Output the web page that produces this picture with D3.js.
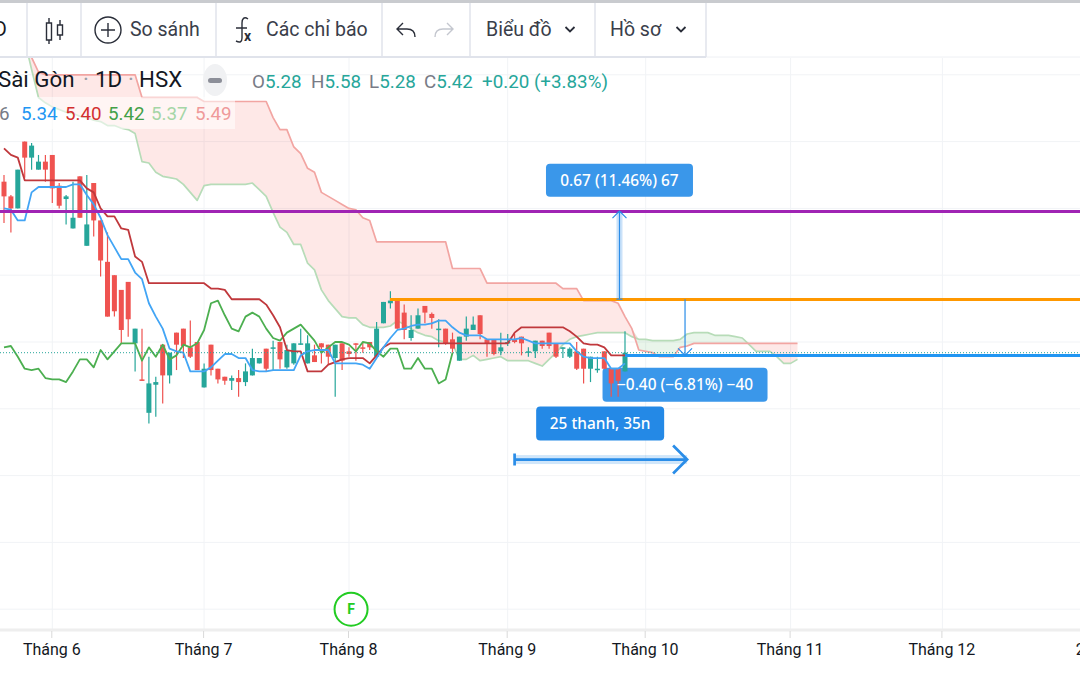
<!DOCTYPE html>
<html>
<head>
<meta charset="utf-8">
<script src="https://cdn.jsdelivr.net/npm/d3@7"></script>
<style>
html, body { margin: 0; padding: 0; background: #fff; overflow: hidden; }
svg { display: block; font-family: Roboto, sans-serif; }
</style>
</head>
<body>
<script>
// Candles, one entry per daily bar.
var opens = [6.70,6.59,6.50,7.00,6.88,6.79,6.85,6.90,6.67,6.57,
  6.35,6.74,6.22,6.69,6.41,6.10,6.00,5.89,5.95,5.49,
  5.22,4.97,5.18,5.48,5.25,5.57,5.60,5.46,5.50,5.16,
  5.48,5.30,5.24,5.21,5.23,5.20,5.25,5.34,5.45,5.45,
  5.50,5.31,5.34,5.48,5.34,5.40,5.49,5.48,5.38,5.49,
  5.43,5.49,5.46,5.50,5.39,5.64,5.79,5.81,5.72,5.53,
  5.60,5.77,5.71,5.59,5.60,5.52,5.36,5.54,5.59,5.70,
  5.52,5.52,5.43,5.49,5.52,5.54,5.42,5.43,5.51,5.57,
  5.49,5.45,5.39,5.43,5.45,5.30,5.29,5.43,5.30,5.30,5.28];
var highs = [6.75,6.60,6.79,7.00,6.99,6.90,6.90,6.90,6.69,6.60,
  6.70,6.74,6.75,6.69,6.41,6.32,6.00,5.89,5.95,5.60,
  5.60,5.39,5.24,5.48,5.42,5.57,5.60,5.66,5.50,5.34,
  5.48,5.30,5.24,5.25,5.29,5.34,5.45,5.38,5.45,5.51,
  5.50,5.48,5.49,5.60,5.55,5.48,5.49,5.48,5.48,5.49,
  5.46,5.49,5.50,5.50,5.65,5.80,5.88,5.81,5.78,5.70,
  5.75,5.77,5.72,5.67,5.60,5.57,5.54,5.69,5.69,5.70,
  5.52,5.52,5.57,5.56,5.56,5.54,5.46,5.51,5.51,5.57,
  5.49,5.46,5.46,5.50,5.45,5.39,5.39,5.43,5.30,5.30,5.58];
var lows = [6.39,6.32,6.50,6.73,6.79,6.79,6.70,6.54,6.50,6.38,
  6.35,6.43,6.22,6.29,5.99,5.69,5.69,5.49,5.54,5.28,
  5.21,4.89,4.94,5.04,5.19,5.29,5.38,5.38,5.29,5.16,
  5.25,5.19,5.18,5.14,5.09,5.17,5.25,5.34,5.28,5.29,
  5.30,5.30,5.33,5.48,5.34,5.35,5.34,5.33,5.09,5.29,
  5.39,5.36,5.42,5.44,5.39,5.64,5.75,5.60,5.52,5.51,
  5.60,5.64,5.60,5.46,5.48,5.42,5.36,5.51,5.59,5.52,
  5.39,5.40,5.40,5.47,5.49,5.40,5.39,5.38,5.45,5.45,
  5.38,5.38,5.38,5.29,5.19,5.20,5.27,5.30,5.09,5.09,5.28];
var closes = [6.59,6.50,6.79,6.88,6.97,6.85,6.79,6.65,6.52,6.59,
  6.43,6.43,6.38,6.41,6.11,5.69,5.73,5.59,5.67,5.60,
  5.21,5.19,5.20,5.25,5.42,5.48,5.47,5.39,5.29,5.30,
  5.29,5.22,5.21,5.23,5.20,5.28,5.38,5.38,5.30,5.46,
  5.37,5.44,5.49,5.49,5.49,5.35,5.46,5.39,5.48,5.36,
  5.41,5.48,5.45,5.46,5.60,5.80,5.81,5.60,5.59,5.59,
  5.70,5.72,5.68,5.60,5.49,5.45,5.54,5.60,5.63,5.56,
  5.49,5.41,5.46,5.50,5.50,5.49,5.43,5.51,5.47,5.47,
  5.39,5.46,5.45,5.30,5.30,5.39,5.30,5.30,5.19,5.21,5.42];

// Ichimoku lines.
var tenkan = [6.50,6.49,6.41,6.41,6.62,6.66,6.66,6.66,6.66,6.66,
  6.68,6.68,6.60,6.53,6.43,6.30,6.21,6.12,6.12,6.02,
  5.97,5.79,5.69,5.60,5.45,5.43,5.42,5.28,5.28,5.28,
  5.31,5.36,5.41,5.41,5.38,5.38,5.29,5.28,5.28,5.29,
  5.29,5.29,5.29,5.40,5.43,5.44,5.44,5.44,5.34,5.34,
  5.34,5.34,5.33,5.30,5.38,5.46,5.53,5.59,5.60,5.62,
  5.63,5.63,5.64,5.66,5.66,5.61,5.57,5.55,5.55,5.55,
  5.52,5.52,5.52,5.52,5.52,5.53,5.51,5.49,5.49,5.49,
  5.49,5.49,5.49,5.43,5.39,5.38,5.38,5.38,5.30,5.30,5.34];
var kijun = [6.95,6.90,6.88,6.71,6.71,6.71,6.71,6.71,6.71,6.71,
  6.71,6.71,6.65,6.62,6.50,6.44,6.44,6.35,6.34,6.14,
  6.10,5.94,5.94,5.94,5.94,5.94,5.94,5.94,5.94,5.94,
  5.90,5.90,5.89,5.82,5.82,5.82,5.82,5.82,5.78,5.70,
  5.61,5.44,5.43,5.43,5.28,5.28,5.28,5.33,5.35,5.37,
  5.38,5.38,5.38,5.34,5.40,5.46,5.49,5.49,5.49,5.49,
  5.49,5.49,5.49,5.49,5.49,5.49,5.49,5.49,5.49,5.49,
  5.49,5.49,5.49,5.49,5.57,5.61,5.61,5.61,5.61,5.61,
  5.61,5.61,5.58,5.54,5.49,5.48,5.48,5.46,5.40,5.40,5.40];
var chikou = [5.46,5.47,5.39,5.30,5.29,5.30,5.23,5.22,5.22,5.20,
  5.28,5.37,5.37,5.31,5.44,5.37,5.43,5.49,5.49,5.49,
  5.36,5.46,5.39,5.48,5.37,5.40,5.48,5.46,5.49,5.59,
  5.79,5.81,5.70,5.60,5.58,5.69,5.72,5.69,5.60,5.53,
  5.51,5.57,5.60,5.63,5.57,5.51,5.42,5.46,5.50,5.50,
  5.48,5.43,5.50,5.49,5.43,5.39,5.45,5.45,5.30,5.30,
  5.38,5.30,5.30,5.19,5.22,5.42];

// The cloud starts at bar 3 and runs 25 bars past the last candle.
var spanStart = 3;
var spanA = [7.76,7.54,7.33,7.29,7.26,7.24,7.22,7.21,7.19,7.18,7.16,7.15,7.12,7.12,7.10,7.09,7.06,
  6.85,6.84,6.77,6.74,6.73,6.72,6.68,6.62,6.56,6.67,6.68,6.68,6.68,6.68,6.68,6.68,6.69,6.64,6.59,
  6.47,6.36,6.32,6.23,6.23,6.09,6.04,5.89,5.81,5.75,5.69,5.68,5.68,5.63,5.61,5.61,5.61,5.62,5.66,
  5.63,5.60,5.57,5.55,5.54,5.51,5.50,5.49,5.37,5.37,5.40,5.36,5.37,5.38,5.39,5.36,5.36,5.36,5.36,
  5.34,5.32,5.37,5.42,5.48,5.52,5.54,5.55,5.56,5.57,5.57,5.57,5.57,5.57,5.54,5.52,5.52,5.51,5.51,
  5.51,5.51,5.52,5.56,5.57,5.57,5.57,5.55,5.55,5.55,5.54,5.53,5.48,5.43,5.43,5.43,5.39,5.34,5.34,5.37];
var spanB = [7.84,7.63,7.52,7.50,7.50,7.50,7.50,7.50,7.50,7.50,7.50,7.50,7.50,7.50,7.50,7.50,7.50,
  7.33,7.33,7.33,7.33,7.33,7.33,7.33,7.33,7.33,7.30,7.30,7.30,7.30,7.30,7.30,7.30,7.30,7.30,7.30,
  7.18,7.09,7.09,6.96,6.91,6.80,6.77,6.62,6.59,6.56,6.53,6.50,6.49,6.43,6.41,6.25,6.25,6.25,6.25,
  6.25,6.25,6.25,6.25,6.25,6.25,6.25,6.05,6.05,6.05,6.05,6.05,5.94,5.94,5.94,5.94,5.94,5.94,5.94,
  5.94,5.94,5.94,5.94,5.90,5.90,5.90,5.81,5.81,5.81,5.81,5.81,5.79,5.69,5.60,5.44,5.43,5.42,5.39,
  5.39,5.39,5.46,5.47,5.49,5.49,5.49,5.49,5.49,5.49,5.49,5.49,5.49,5.49,5.49,5.49,5.49,5.49,5.49,5.49];

// Axis.
var priceTicks = [7.5, 7.0, 6.5, 6.0, 5.5, 5.0, 4.5, 4.0, 3.5];
var monthBars = [7, 29, 50, 73, 93, 114, 136, 158];
var monthLabels = ["Tháng 6", "Tháng 7", "Tháng 8", "Tháng 9", "Tháng 10", "Tháng 11", "Tháng 12", "2023"];

// Drawn levels and measuring tools.
var purpleLevel = 6.48, orangeLevel = 5.82, blueLevel = 5.40, lastClose = 5.42;
var orangeFromBar = 56, blueFromBar = 90;
var upMeasureBar = 89.2, downMeasureBar = 98.7;
var rangeFromBar = 74, rangeToBar = 99, rangePrice = 4.62;
var fBar = 50.3;

var W = 1080, H = 675, plotTop = 58, plotBottom = 630;

var x = d3.scaleLinear().domain([0, 1]).range([4, 10.9]);
var y = d3.scaleLinear().domain([5.5, 6.0]).range([342, 275.2]);

var svg = d3.select("body").append("svg").attr("width", W).attr("height", H);

svg.append("clipPath").attr("id", "plot").append("rect")
  .attr("x", 0).attr("y", plotTop).attr("width", W).attr("height", plotBottom - plotTop);

var plot = svg.append("g").attr("clip-path", "url(#plot)");

// Grid
plot.selectAll(".hgrid").data(priceTicks).enter().append("line")
  .attr("x1", 0).attr("x2", W)
  .attr("y1", function (d){ return y(d); }).attr("y2", function (d){ return y(d); })
  .attr("stroke", "#f1f3f6").attr("stroke-width", 1);
plot.selectAll(".vgrid").data(monthBars).enter().append("line")
  .attr("x1", function (d){ return x(d); }).attr("x2", function (d){ return x(d); })
  .attr("y1", plotTop).attr("y2", plotBottom)
  .attr("stroke", "#f1f3f6").attr("stroke-width", 1);

// Cloud
var cloud = spanA.map(function (a, i){ return { i: i + spanStart, a: a, b: spanB[i] }; });
plot.append("path").datum(cloud)
  .attr("fill", "#f44336").attr("fill-opacity", 0.12)
  .attr("d", d3.area()
    .x(function (d){ return x(d.i); })
    .y0(function (d){ return y(d.a); })
    .y1(function (d){ return y(Math.max(d.a, d.b)); }));
plot.append("path").datum(cloud)
  .attr("fill", "#4caf50").attr("fill-opacity", 0.12)
  .attr("d", d3.area()
    .x(function (d){ return x(d.i); })
    .y0(function (d){ return y(d.b); })
    .y1(function (d){ return y(Math.max(d.a, d.b)); }));

function drawLine(values, start, color, width){
  var line = d3.line()
    .x(function (d, i){ return x(i + start); })
    .y(function (d){ return y(d); });
  plot.append("path").datum(values)
    .attr("fill", "none").attr("stroke", color)
    .attr("stroke-width", width).attr("stroke-linejoin", "round")
    .attr("d", line);
}

drawLine(spanA, spanStart, "#b7dcb8", 1.7);
drawLine(spanB, spanStart, "#f2a5a2", 1.7);

// Label boxes sit under the candles
var BLUE_LIGHT = "#3a97ea", BLUE_DARK = "#2489e6";
function labelBox(cx, price, w, h, color){
  plot.append("rect")
    .attr("x", cx - w / 2).attr("y", y(price) - h / 2)
    .attr("width", w).attr("height", h).attr("rx", 4)
    .attr("fill", color);
}
function labelText(cx, price, text){
  plot.append("text")
    .attr("x", cx).attr("y", y(price)).attr("dy", "0.36em")
    .attr("text-anchor", "middle").attr("fill", "#fff")
    .style("font-family", "'Noto Sans', sans-serif")
    .style("font-size", "15.4px").style("font-weight", 500)
    .text(text);
}
labelBox(x(89.2), 6.71, 147, 33, BLUE_LIGHT);
labelBox(x(98.7), 5.18, 165, 34, BLUE_LIGHT);
labelBox(x(86.4), 4.89, 128, 34, BLUE_DARK);

// Wick and body of each candle
var bars = d3.range(closes.length);
function candleColor(i){ return closes[i] >= opens[i] ? "#26a69a" : "#ef5350"; }
plot.selectAll(".wick").data(bars).enter().append("line")
  .attr("x1", function (i){ return x(i); }).attr("x2", function (i){ return x(i); })
  .attr("y1", function (i){ return y(highs[i]); }).attr("y2", function (i){ return y(lows[i]); })
  .attr("stroke", candleColor).attr("stroke-width", 1.2);
plot.selectAll(".body").data(bars).enter().append("rect")
  .attr("x", function (i){ return x(i) - 2.5; })
  .attr("y", function (i){ return y(Math.max(opens[i], closes[i])); })
  .attr("width", 5)
  .attr("height", function (i){ return Math.max(1.5, Math.abs(y(opens[i]) - y(closes[i]))); })
  .attr("fill", candleColor);

drawLine(chikou, 0, "#4caf50", 1.8);
drawLine(kijun, 0, "#c0383c", 1.8);
drawLine(tenkan, 0, "#42a5f5", 1.8);

// Last price
plot.append("line")
  .attr("x1", 0).attr("x2", W).attr("y1", y(lastClose)).attr("y2", y(lastClose))
  .attr("stroke", "#26a69a").attr("stroke-width", 1).attr("stroke-dasharray", "1 2");

// Horizontal levels
function level(price, fromBar, color){
  plot.append("line")
    .attr("x1", x(fromBar)).attr("x2", W).attr("y1", y(price)).attr("y2", y(price))
    .attr("stroke", color).attr("stroke-width", 3).attr("shape-rendering", "crispEdges");
}
level(purpleLevel, -1, "#a024b4");
level(orangeLevel, orangeFromBar, "#ff9800");
level(blueLevel, blueFromBar, "#2196f3");

// Upward price range
var TOOL = "#2a8de8";
plot.append("rect")
  .attr("x", x(upMeasureBar) - 3).attr("y", y(purpleLevel))
  .attr("width", 6).attr("height", y(orangeLevel) - y(purpleLevel))
  .attr("fill", TOOL).attr("fill-opacity", 0.25);
plot.append("path")
  .attr("d", "M" + x(upMeasureBar) + "," + y(orangeLevel) + "V" + y(purpleLevel)
    + "m-7,7l7,-7l7,7M" + (x(upMeasureBar) - 3) + "," + y(orangeLevel) + "h6")
  .attr("fill", "none").attr("stroke", TOOL).attr("stroke-width", 1.2);

// Downward price range
plot.append("path")
  .attr("d", "M" + x(downMeasureBar) + "," + y(orangeLevel) + "V" + y(blueLevel)
    + "m-7,-7l7,7l7,-7")
  .attr("fill", "none").attr("stroke", TOOL).attr("stroke-width", 1.2);

// Date range
plot.append("rect")
  .attr("x", x(rangeFromBar)).attr("y", y(rangePrice) - 4.5)
  .attr("width", x(rangeToBar) - x(rangeFromBar)).attr("height", 9)
  .attr("fill", TOOL).attr("fill-opacity", 0.22);
plot.append("path")
  .attr("d", "M" + x(rangeFromBar) + "," + (y(rangePrice) - 6) + "v12M" + x(rangeFromBar) + "," + y(rangePrice)
    + "H" + x(rangeToBar) + "m-14,-14l14,14l-14,14")
  .attr("fill", "none").attr("stroke", TOOL).attr("stroke-width", 2.7);

labelText(x(89.2), 6.71, "0.67 (11.46%) 67");
labelText(x(98.7), 5.18, "−0.40 (−6.81%) −40");
labelText(x(86.4), 4.89, "25 thanh, 35n");

// Financials marker
var fy = y(3.5);
plot.append("circle").attr("cx", x(fBar)).attr("cy", fy).attr("r", 16.5)
  .attr("fill", "#fff").attr("stroke", "#22cc22").attr("stroke-width", 2);
plot.append("text").attr("x", x(fBar)).attr("y", fy).attr("dy", "0.36em")
  .attr("text-anchor", "middle").attr("fill", "#22cc22")
  .style("font-size", "14px").style("font-weight", 700).text("F");

// Time axis
svg.append("line").attr("x1", 0).attr("x2", W).attr("y1", plotBottom).attr("y2", plotBottom)
  .attr("stroke", "#eeeeee").attr("stroke-width", 3);
var axis = d3.axisBottom(x)
  .tickValues(monthBars)
  .tickSize(7).tickPadding(6)
  .tickFormat(function (d, i){ return monthLabels[i]; });
var axisG = svg.append("g").attr("transform", "translate(-1," + (plotBottom + 1) + ")").call(axis);
axisG.select(".domain").remove();
axisG.selectAll(".tick line").attr("stroke", "#d9d9d9");
axisG.selectAll(".tick text").attr("fill", "#131722")
  .style("font-family", "Roboto, sans-serif").style("font-size", "16px");

// Legend
var legend = svg.append("g");
legend.append("rect").attr("x", 0).attr("y", 97).attr("width", 235).attr("height", 32)
  .attr("fill", "#fff").attr("fill-opacity", 0.55);
[["Sài Gòn", -2, "#131722"], ["·", 83, "#9a9da6"], ["1D", 95, "#131722"], ["·", 128, "#9a9da6"], ["HSX", 139, "#131722"]].forEach(function (p){
  legend.append("text").attr("x", p[1]).attr("y", 87).attr("fill", p[2])
    .style("font-size", "22.3px").text(p[0]);
});
legend.append("ellipse").attr("cx", 215).attr("cy", 80).attr("rx", 12).attr("ry", 16).attr("fill", "#f0f1f3");
legend.append("rect").attr("x", 208).attr("y", 78).attr("width", 14).attr("height", 5).attr("rx", 2.5).attr("fill", "#8c8f99");

[["O", "5.28", 252], ["H", "5.58", 311], ["L", "5.28", 369], ["C", "5.42", 424]].forEach(function (p){
  var t = legend.append("text").attr("x", p[2]).attr("y", 88).style("font-size", "18.8px");
  t.append("tspan").attr("fill", "#787b86").text(p[0]);
  t.append("tspan").attr("fill", "#26a69a").text(p[1]);
});
legend.append("text").attr("x", 482).attr("y", 88).attr("fill", "#26a69a")
  .style("font-size", "18.8px").text("+0.20 (+3.83%)");

var legendValues = [["6", -1, "#787b86"], ["5.34", 21, "#2196f3"], ["5.40", 65, "#d32f2f"],
  ["5.42", 108, "#43a047"], ["5.37", 151, "#a5d6a7"], ["5.49", 195, "#ef9a9a"]];
legendValues.forEach(function (p){
  legend.append("text").attr("x", p[1]).attr("y", 120).attr("fill", p[2])
    .style("font-size", "18.8px").text(p[0]);
});

// Toolbar
var bar = svg.append("g");
bar.append("rect").attr("x", 0).attr("y", 0).attr("width", W).attr("height", 58).attr("fill", "#fff");
bar.append("rect").attr("x", 0).attr("y", 0).attr("width", W).attr("height", 3).attr("fill", "#c9cbcf");
bar.append("line").attr("x1", 0).attr("x2", 706).attr("y1", 57).attr("y2", 57)
  .attr("stroke", "#e0e3eb").attr("stroke-width", 2);
bar.append("line").attr("x1", 706).attr("x2", W).attr("y1", 57).attr("y2", 57)
  .attr("stroke", "#eef0f4").attr("stroke-width", 1);
[27, 81, 216, 382, 470, 595, 706].forEach(function (sx){
  bar.append("line").attr("x1", sx).attr("x2", sx).attr("y1", 3).attr("y2", 57)
    .attr("stroke", "#e0e3eb").attr("stroke-width", 1.5);
});
[["D", -6, "#131722"], ["So sánh", 130, "#3a3e4a"], ["Các chỉ báo", 266, "#3a3e4a"],
 ["Biểu đồ", 486, "#3a3e4a"], ["Hồ sơ", 610, "#3a3e4a"]].forEach(function (p){
  bar.append("text").attr("x", p[1]).attr("y", 36).attr("fill", p[2])
    .style("font-size", "19.5px").text(p[0]);
});

var ICON = "#2a2e39";
bar.append("path").attr("fill", "none").attr("stroke", ICON).attr("stroke-width", 1.4)
  .attr("d", "M46.5,23h5v17h-5zM49,18v5M49,40v4M57.5,25h5v10h-5zM60,20v5M60,35v5");
bar.append("circle").attr("cx", 108).attr("cy", 30).attr("r", 13)
  .attr("fill", "none").attr("stroke", ICON).attr("stroke-width", 1.4);
bar.append("path").attr("fill", "none").attr("stroke", ICON).attr("stroke-width", 1.4)
  .attr("d", "M101,30h14M108,23v14");
bar.append("path").attr("fill", "none").attr("stroke", ICON).attr("stroke-width", 1.4)
  .attr("d", "M248,19c-4,-3 -6,0 -6,4v15c0,4 -2,5 -6,3M236,28h11");
bar.append("text").attr("x", 244).attr("y", 41).attr("fill", ICON)
  .style("font-size", "14px").style("font-weight", 700).text("x");
bar.append("path").attr("fill", "none").attr("stroke", ICON).attr("stroke-width", 1.4)
  .attr("d", "M403,23l-6,6l6,6M397,29h10c5,0 8,3 8,8");
bar.append("path").attr("fill", "none").attr("stroke", "#c4c7cf").attr("stroke-width", 1.4)
  .attr("d", "M447,23l6,6l-6,6M453,29h-10c-5,0 -8,3 -8,8");
bar.append("path").attr("fill", "none").attr("stroke", ICON).attr("stroke-width", 1.8)
  .attr("d", "M565.5,27l4.5,4.5l4.5,-4.5M676.5,27l4.5,4.5l4.5,-4.5");
</script>
</body>
</html>
